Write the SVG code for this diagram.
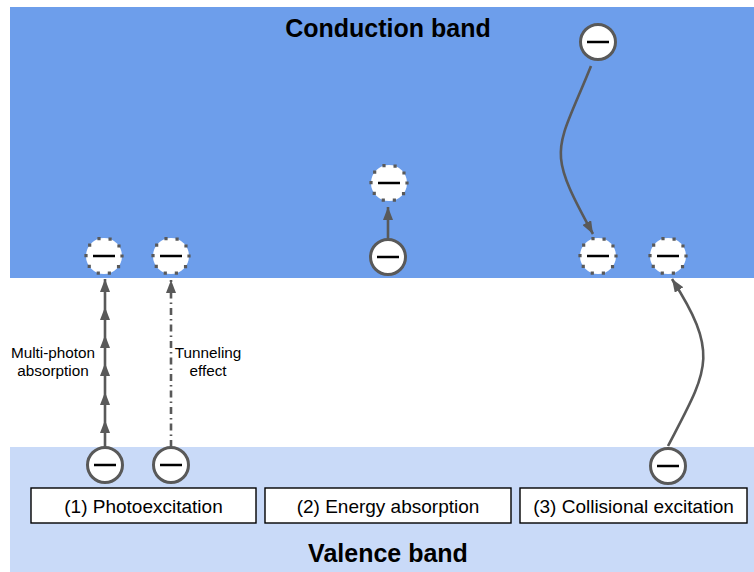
<svg xmlns="http://www.w3.org/2000/svg" width="754" height="572" viewBox="0 0 754 572">
  <style>
    .band-title { font-family: "Liberation Sans", Arial, sans-serif; font-weight: bold; font-size: 25px; fill: #000; text-anchor: middle; }
    .note { font-family: "Liberation Sans", Arial, sans-serif; font-size: 15.3px; fill: #000; text-anchor: middle; }
    .caption { font-family: "Liberation Sans", Arial, sans-serif; font-size: 19px; fill: #000; text-anchor: middle; }
    .box { fill: #fff; stroke: #000; stroke-width: 1.4; }
    .e-solid { fill: #fff; stroke: #595959; stroke-width: 3; }
    .e-dotted { fill: #fff; stroke: #595959; stroke-width: 3.2; stroke-dasharray: 0 11.31; stroke-linecap: square; }
    .minus { stroke: #000; stroke-width: 2.5; }
    .link { fill: none; stroke: #595959; stroke-width: 2.6; }
    .dashdot { stroke-dasharray: 7 4 1.5 4; }
  </style>
  <defs>
    <marker id="head" viewBox="0 0 13 10" refX="13" refY="5" markerWidth="13" markerHeight="10" markerUnits="userSpaceOnUse" orient="auto">
      <path d="M0,0 L13,5 L0,10 z" fill="#595959" stroke="none"/>
    </marker>
    <g id="electron">
      <circle r="17.5" class="e-solid"/>
      <line x1="-11" y1="0" x2="11" y2="0" class="minus"/>
    </g>
    <g id="electron-excited">
      <circle r="18" class="e-dotted"/>
      <line x1="-11" y1="0" x2="11" y2="0" class="minus"/>
    </g>
  </defs>

  <!-- energy bands -->
  <g id="conduction-band">
    <rect x="10" y="7" width="744" height="271" fill="#6d9eeb"/>
    <text class="band-title" x="388" y="37">Conduction band</text>
  </g>
  <g id="valence-band">
    <rect x="10" y="447" width="744" height="125" fill="#c9daf8"/>
    <text class="band-title" x="388" y="562">Valence band</text>
  </g>

  <!-- transitions -->
  <g id="connectors">
    <path class="link" d="M105,447 L105,420 L105,392 L105,363 L105,335 L105,307 L105,279" marker-mid="url(#head)" marker-end="url(#head)"/>
    <path class="link dashdot" d="M171,447 L171,280" marker-end="url(#head)"/>
    <path class="link" d="M388,238 L388,207" marker-end="url(#head)"/>
    <path class="link" d="M591,66 C556,153 545,147 593,234" marker-end="url(#head)"/>
    <path class="link" d="M668,446 C707.5,370 720.6,355 672,279" marker-end="url(#head)"/>
  </g>

  <!-- transition labels -->
  <g id="label-multiphoton">
    <text class="note" x="53" y="358">Multi-photon</text>
    <text class="note" x="53" y="376">absorption</text>
  </g>
  <g id="label-tunneling">
    <text class="note" x="208" y="358">Tunneling</text>
    <text class="note" x="208" y="376">effect</text>
  </g>

  <!-- electrons -->
  <g id="photo-ground-1"><use href="#electron" x="105" y="465"/></g>
  <g id="photo-ground-2"><use href="#electron" x="171" y="465"/></g>
  <g id="photo-excited-1"><use href="#electron-excited" x="104" y="256"/></g>
  <g id="photo-excited-2"><use href="#electron-excited" x="171" y="256"/></g>
  <g id="absorb-ground"><use href="#electron" x="388" y="257"/></g>
  <g id="absorb-excited"><use href="#electron-excited" x="389" y="183"/></g>
  <g id="collide-hot"><use href="#electron" x="598" y="42"/></g>
  <g id="collide-relaxed"><use href="#electron-excited" x="598" y="256"/></g>
  <g id="collide-excited"><use href="#electron-excited" x="668" y="256"/></g>
  <g id="collide-ground"><use href="#electron" x="668" y="466"/></g>

  <!-- process captions -->
  <g id="caption-photoexcitation">
    <rect class="box" x="31" y="488" width="225" height="35"/>
    <text class="caption" x="143.5" y="513">(1) Photoexcitation</text>
  </g>
  <g id="caption-energy-absorption">
    <rect class="box" x="265" y="488" width="246" height="35"/>
    <text class="caption" x="388" y="513">(2) Energy absorption</text>
  </g>
  <g id="caption-collisional">
    <rect class="box" x="520" y="488" width="227" height="35"/>
    <text class="caption" x="633.5" y="513">(3) Collisional excitation</text>
  </g>
</svg>
